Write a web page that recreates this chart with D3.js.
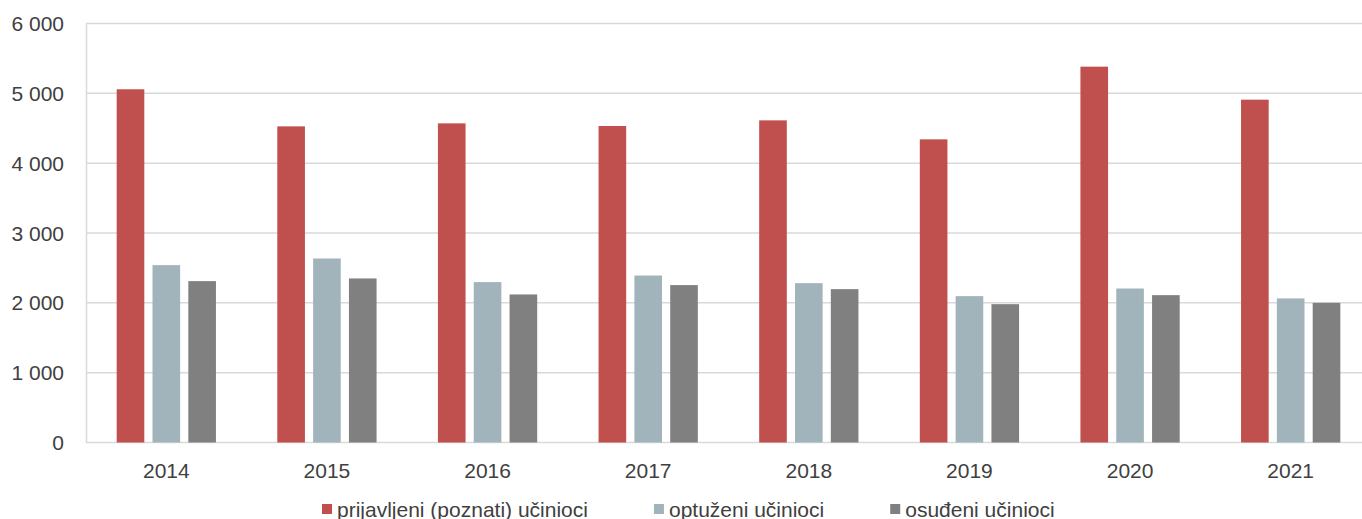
<!DOCTYPE html>
<html>
<head>
<meta charset="utf-8">
<script src="https://cdn.jsdelivr.net/npm/d3@7"></script>
<style>
  html, body { margin: 0; padding: 0; background: #fff; }
  svg { display: block; font-family: "Liberation Sans", Arial, sans-serif; }
</style>
</head>
<body>
<svg id="chart" width="1362" height="519"></svg>
<script>
const years = ["2014", "2015", "2016", "2017", "2018", "2019", "2020", "2021"];
const seriesNames = ["prijavljeni (poznati) učinioci", "optuženi učinioci", "osuđeni učinioci"];
const prijavljeni = [5058, 4527, 4570, 4532, 4613, 4341, 5382, 4909];
const optuzeni = [2540, 2635, 2297, 2391, 2282, 2096, 2205, 2063];
const osudjeni = [2311, 2349, 2120, 2254, 2196, 1981, 2110, 2000];
const colors = ["#c0504d", "#a2b4bb", "#808080"];
const yTicks = [0, 1000, 2000, 3000, 4000, 5000, 6000];

const seriesValues = [prijavljeni, optuzeni, osudjeni];

const svg = d3.select("#chart");
const margin = { left: 86, top: 23.5, bottom: 442.5, right: 1371 };

const x = d3.scaleBand().domain(years).range([margin.left, margin.right]).paddingInner(0).paddingOuter(0);
const y = d3.scaleLinear().domain([0, 6000]).range([margin.bottom, margin.top]);

const barW = x.bandwidth() * 0.172;
const barStep = x.bandwidth() * 0.223;

const fmt = v => d3.format(",")(v).replace(/,/g, " ");

// gridlines
svg.append("g")
  .selectAll("line")
  .data(yTicks)
  .join("line")
  .attr("x1", margin.left)
  .attr("x2", 1362)
  .attr("y1", d => y(d))
  .attr("y2", d => y(d))
  .attr("stroke", "#d9d9d9")
  .attr("stroke-width", 1.5);

// y axis line
svg.append("line")
  .attr("x1", margin.left + 0.5).attr("x2", margin.left + 0.5)
  .attr("y1", y(6000)).attr("y2", y(0))
  .attr("stroke", "#d9d9d9").attr("stroke-width", 1.5);

// y labels
svg.append("g")
  .selectAll("text")
  .data(yTicks)
  .join("text")
  .attr("x", 64)
  .attr("y", d => y(d) + 7.5)
  .attr("text-anchor", "end")
  .attr("font-size", 21)
  .attr("fill", "#404040")
  .text(d => fmt(d));

// bars
seriesValues.forEach((vals, si) => {
  svg.append("g")
    .selectAll("rect")
    .data(years.map((yr, i) => ({ yr, v: vals[i] })))
    .join("rect")
    .attr("x", d => x(d.yr) + x.bandwidth() / 2 + (si - 1) * barStep - barW / 2)
    .attr("y", d => y(d.v))
    .attr("width", barW)
    .attr("height", d => y(0) - y(d.v))
    .attr("fill", colors[si]);
});

// x labels
svg.append("g")
  .selectAll("text")
  .data(years)
  .join("text")
  .attr("x", d => x(d) + x.bandwidth() / 2)
  .attr("y", 477.5)
  .attr("text-anchor", "middle")
  .attr("font-size", 21)
  .attr("fill", "#404040")
  .text(d => d);

// legend
const legend = svg.append("g");
let lx = 322;
seriesNames.forEach((name, i) => {
  const g = legend.append("g");
  g.append("rect")
    .attr("x", lx).attr("y", 504)
    .attr("width", 10).attr("height", 10)
    .attr("fill", colors[i]);
  const t = g.append("text")
    .attr("x", lx + 15)
    .attr("y", 516.5)
    .attr("font-size", 21)
    .attr("fill", "#404040")
    .text(name);
  const w = t.node().getComputedTextLength();
  lx = lx + 15 + w + 66;
});
</script>
</body>
</html>
